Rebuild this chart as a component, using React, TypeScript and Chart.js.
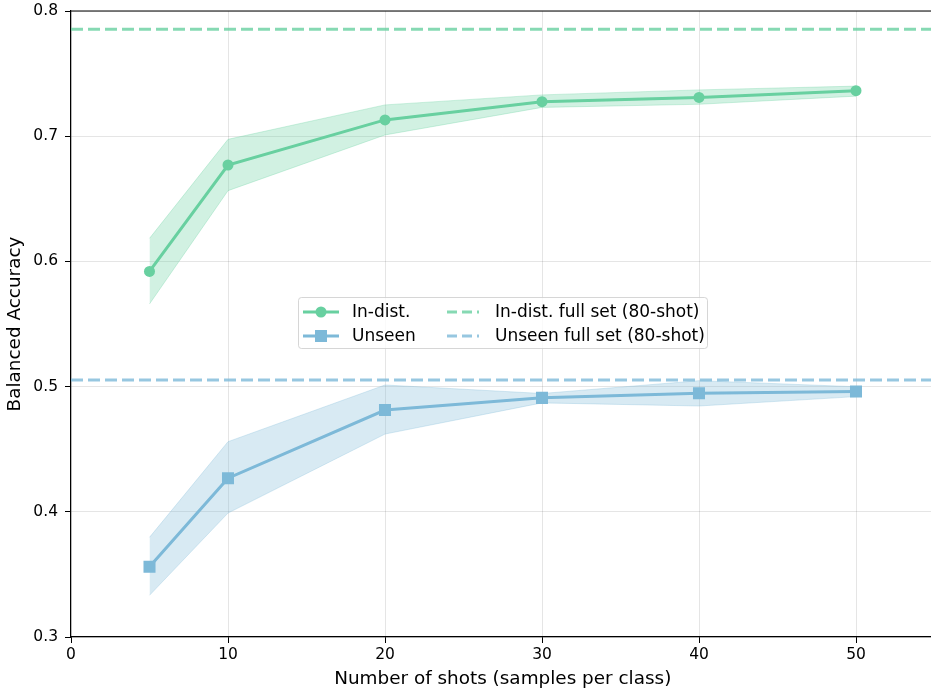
import React, { useEffect, useRef } from "react";
import { Chart, registerables } from "chart.js";

Chart.register(...registerables);

const shots = [5, 10, 20, 30, 40, 50];
const inDistMean = [0.592, 0.677, 0.713, 0.7276, 0.731, 0.7364];
const inDistHigh = [0.6184, 0.6975, 0.725, 0.733, 0.737, 0.740];
const inDistLow = [0.566, 0.6565, 0.701, 0.723, 0.7255, 0.732];
const unseenMean = [0.3562, 0.4268, 0.4813, 0.491, 0.4946, 0.496];
const unseenHigh = [0.3796, 0.456, 0.5013, 0.4945, 0.5047, 0.4999];
const unseenLow = [0.3333, 0.399, 0.4621, 0.487, 0.4845, 0.492];
const inDistFull = 0.7855;
const unseenFull = 0.5053;
const xMin = 0;
const xMax = 55;
const yMin = 0.3;
const yMax = 0.8;
const xTickStep = 10;
const yTickStep = 0.1;
const legendLabels = ["In-dist.", "Unseen", "In-dist. full set (80-shot)", "Unseen full set (80-shot)"];

const GREEN = "rgb(104,208,160)";
const GREEN_FILL = "rgba(104,208,160,0.3)";
const GREEN_DASH = "rgba(104,208,160,0.8)";
const BLUE = "rgb(125,185,216)";
const BLUE_FILL = "rgba(125,185,216,0.3)";
const BLUE_DASH = "rgba(125,185,216,0.8)";
const FONT = "'DejaVu Sans', sans-serif";
const TICK_SIZE = 15.5;
const TITLE_SIZE = 18.4;

const pts = (ys: number[]) => shots.map((x, i) => ({ x, y: ys[i] }));
const hline = (y: number) => [{ x: xMin, y }, { x: xMax, y }];

const framePlugin = {
  id: "frame",
  afterDraw(chart: any) {
    const { ctx, chartArea } = chart;
    ctx.save();
    ctx.strokeStyle = "#000";
    ctx.lineWidth = 1.2;
    ctx.beginPath();
    ctx.moveTo(chartArea.left, chartArea.top);
    ctx.lineTo(chartArea.right, chartArea.top);
    ctx.stroke();

    // legend
    const bx = 298, by = 297, bw = 409, bh = 51;
    ctx.fillStyle = "rgba(255,255,255,0.8)";
    ctx.strokeStyle = "rgba(204,204,204,0.8)";
    ctx.lineWidth = 1;
    ctx.beginPath();
    (ctx as any).roundRect(bx + 0.5, by + 0.5, bw, bh, 3);
    ctx.fill();
    ctx.stroke();

    const rows = [312, 336];
    ctx.font = `17px ${FONT}`;
    ctx.textBaseline = "middle";
    ctx.textAlign = "left";
    const cols1 = [GREEN, BLUE];
    rows.forEach((ry, i) => {
      ctx.strokeStyle = cols1[i];
      ctx.lineWidth = 3;
      ctx.setLineDash([]);
      ctx.beginPath();
      ctx.moveTo(303, ry);
      ctx.lineTo(339, ry);
      ctx.stroke();
      ctx.fillStyle = cols1[i];
      if (i === 0) {
        ctx.beginPath();
        ctx.arc(321, ry, 5.5, 0, Math.PI * 2);
        ctx.fill();
      } else {
        ctx.fillRect(315, ry - 6, 12, 12);
      }
      ctx.fillStyle = "#000";
      ctx.fillText(legendLabels[i], 352, ry + 1);
    });
    const cols2 = [GREEN_DASH, BLUE_DASH];
    rows.forEach((ry, i) => {
      ctx.strokeStyle = cols2[i];
      ctx.lineWidth = 3;
      ctx.setLineDash([10, 5]);
      ctx.beginPath();
      ctx.moveTo(447, ry);
      ctx.lineTo(479, ry);
      ctx.stroke();
      ctx.setLineDash([]);
      ctx.fillStyle = "#000";
      ctx.fillText(legendLabels[i + 2], 495, ry + 1);
    });
    ctx.restore();
  },
};

export default function App() {
  const ref = useRef<HTMLCanvasElement>(null);
  useEffect(() => {
    if (!ref.current) return;
    Chart.defaults.font.family = FONT;
    Chart.defaults.color = "#000";
    const chart = new Chart(ref.current, {
      type: "line",
      data: {
        datasets: [
          { data: pts(inDistMean), borderColor: GREEN, backgroundColor: GREEN, borderWidth: 3, pointRadius: 5.5, pointStyle: "circle", pointBorderWidth: 0, order: 0, fill: false },
          { data: pts(unseenMean), borderColor: BLUE, backgroundColor: BLUE, borderWidth: 3, pointRadius: 8.5, pointStyle: "rect", pointBorderWidth: 0, order: 0, fill: false },
          { data: hline(inDistFull), borderColor: GREEN_DASH, borderDash: [12, 5], borderWidth: 3, pointRadius: 0, order: 1, fill: false },
          { data: hline(unseenFull), borderColor: BLUE_DASH, borderDash: [12, 5], borderWidth: 3, pointRadius: 0, order: 1, fill: false },
          { data: pts(inDistHigh), borderColor: GREEN_FILL, borderWidth: 1, pointRadius: 0, order: 2, fill: false },
          { data: pts(inDistLow), borderColor: GREEN_FILL, backgroundColor: GREEN_FILL, borderWidth: 1, pointRadius: 0, order: 2, fill: "-1" },
          { data: pts(unseenHigh), borderColor: BLUE_FILL, borderWidth: 1, pointRadius: 0, order: 2, fill: false },
          { data: pts(unseenLow), borderColor: BLUE_FILL, backgroundColor: BLUE_FILL, borderWidth: 1, pointRadius: 0, order: 2, fill: "-1" },
        ] as any,
      },
      options: {
        animation: false,
        responsive: false,
        layout: { padding: { top: 11, right: 9.5, left: 0, bottom: 0 } },
        plugins: { legend: { display: false }, tooltip: { enabled: false } },
        scales: {
          x: {
            type: "linear",
            min: xMin,
            max: xMax,
            ticks: { stepSize: xTickStep, font: { size: TICK_SIZE }, padding: 3, color: "#000" },
            afterBuildTicks: (s: any) => { s.ticks = s.ticks.filter((t: any) => Math.abs(t.value % xTickStep) < 1e-9); },
            afterFit: (s: any) => { s.height = 55; s.paddingLeft = 0; s.paddingRight = 0; },
            grid: { color: "rgba(0,0,0,0.1)", tickColor: "#000", tickLength: 6, lineWidth: 1 },
            border: { color: "#000", width: 1.2 },
            title: { display: true, text: "Number of shots (samples per class)", font: { size: TITLE_SIZE }, padding: { top: 0, bottom: 2 }, color: "#000" },
          },
          y: {
            type: "linear",
            min: yMin,
            max: yMax,
            ticks: { stepSize: yTickStep, font: { size: TICK_SIZE }, padding: 7, color: "#000", callback: (v: any) => Number(v).toFixed(1) },
            afterFit: (s: any) => { s.width = 71; s.paddingTop = 0; s.paddingBottom = 0; },
            grid: { color: "rgba(0,0,0,0.1)", tickColor: "#000", tickLength: 6, lineWidth: 1 },
            border: { color: "#000", width: 1.2 },
            title: { display: true, text: "Balanced Accuracy", font: { size: TITLE_SIZE }, padding: { top: 4, bottom: 0 }, color: "#000" },
          },
        },
      } as any,
      plugins: [framePlugin],
    });
    return () => chart.destroy();
  }, []);
  return (
    <div style={{ position: "absolute", left: 0, top: 0, width: 931, height: 692, overflow: "hidden", background: "#fff" }}>
      <canvas ref={ref} width={944} height={692} style={{ width: 944, height: 692, display: "block" }} />
    </div>
  );
}
